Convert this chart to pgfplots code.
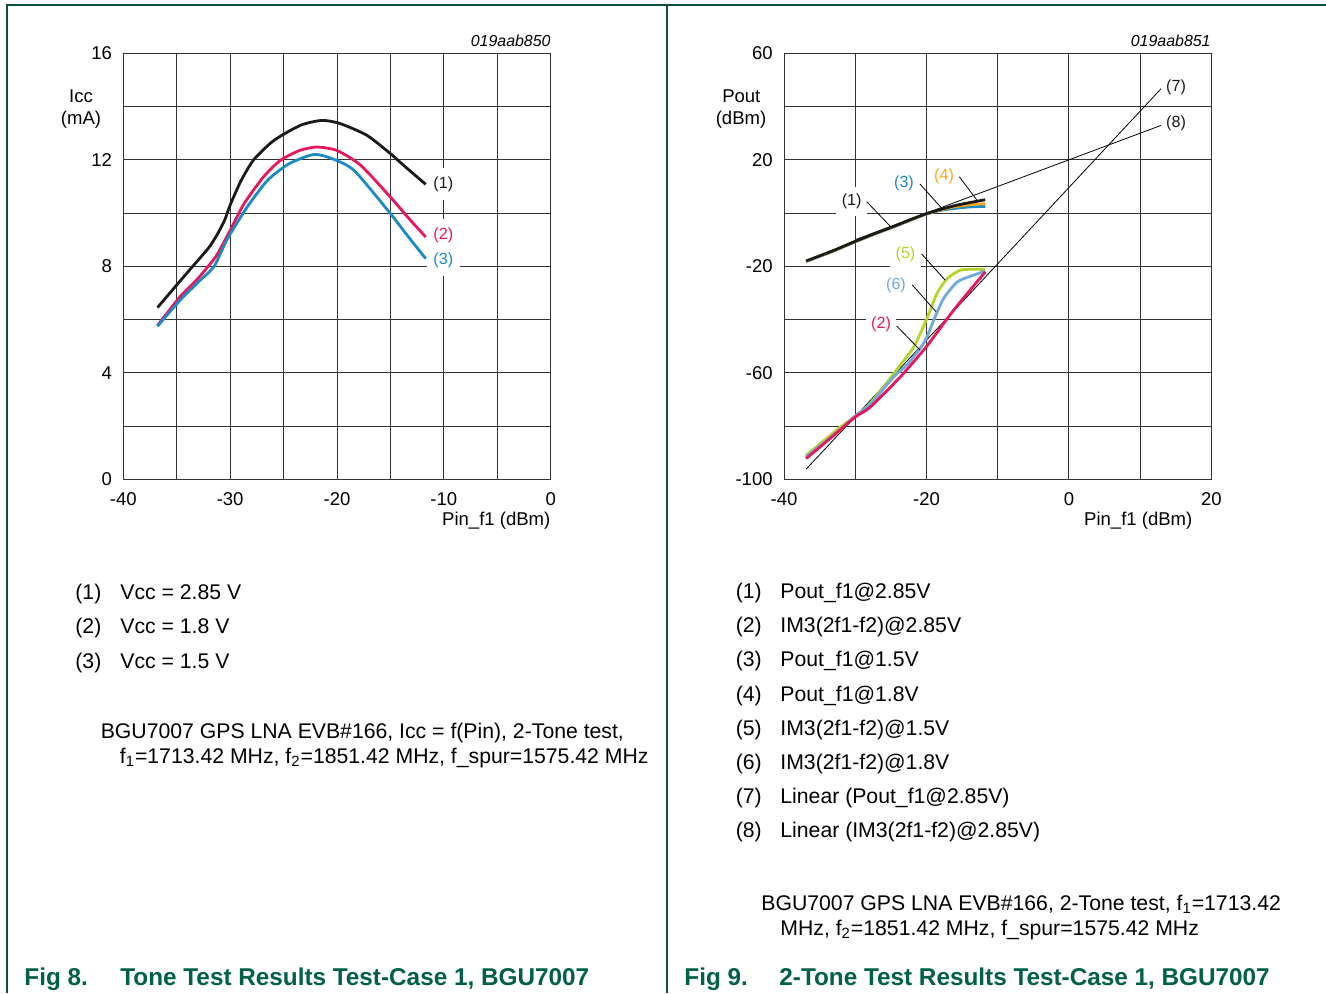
\documentclass[border=0pt]{standalone}
\usepackage{pgfplots}
\pgfplotsset{compat=1.18}
\usepackage{fontspec}
\setmainfont{Liberation Sans}

\definecolor{c1}{RGB}{26,26,26}
\definecolor{c2}{RGB}{232,22,90}
\definecolor{c3}{RGB}{28,138,200}
\definecolor{c4}{RGB}{245,168,30}
\definecolor{c5}{RGB}{182,212,40}
\definecolor{c6}{RGB}{110,170,222}
\definecolor{framegreen}{RGB}{16,78,62}
\definecolor{capgreen}{RGB}{0,96,72}

\newcommand{\tkfont}{\fontsize{9.3}{11}\selectfont}
\newcommand{\lbfont}{\fontsize{8.1}{9}\selectfont}
\newcommand{\lgfont}{\fontsize{10.65}{13}\selectfont}
\newcommand{\capfont}{\fontsize{12.2}{14}\selectfont\bfseries}

\pgfplotsset{
  chartbase/.style={
    scale only axis, anchor=south west,
    width=213.7bp, height=213bp,
    grid=both,
    major grid style={black!80, line width=0.5bp},
    minor grid style={black!80, line width=0.5bp},
    axis line style={black!80, line width=0.5bp},
    major tick length=0pt, minor tick length=0pt,
    tick label style={font=\tkfont, inner sep=0pt},
    xticklabel style={anchor=north, yshift=-6.2bp},
    yticklabel style={anchor=east, xshift=-5.5bp},
    /pgf/number format/assume math mode=true,
  },
  crv/.style={line width=1.4bp, smooth, tension=0.4, no marks},
  thin/.style={black, line width=0.4bp, no marks},
}

\begin{document}
\begin{tikzpicture}

% Fig 8: Icc vs Pin
\begin{axis}[chartbase,
    at={(61.65bp,-239.65bp)},
    xmin=-40, xmax=0, ymin=0, ymax=16,
    xtick={-40,-30,...,0}, minor xtick={-35,-25,-15,-5},
    ytick={0,4,...,16}, minor ytick={2,6,10,14},
]
\addplot[crv, c1] coordinates {
  (-36.8,6.45) (-35,7.3) (-33.5,8.0) (-32,8.7) (-31.2,9.2) (-30.5,9.75)
  (-30,10.3) (-29,11.2) (-27.8,12.0) (-25.9,12.73) (-23.4,13.3) (-21.4,13.48)
  (-19.7,13.36) (-17.2,12.92) (-15,12.23) (-13.5,11.7) (-11.7,11.08)
};
\addplot[crv, c2] coordinates {
  (-36.8,5.78) (-34.7,6.85) (-33,7.55) (-31.85,8.1) (-31.2,8.45) (-30,9.35)
  (-28.7,10.35) (-26.9,11.35) (-25.3,11.98) (-23.5,12.35) (-21.9,12.48)
  (-20,12.35) (-17.8,11.8) (-15,10.6) (-13.5,9.9) (-11.7,9.1)
};
\addplot[crv, c3] coordinates {
  (-36.8,5.75) (-34.7,6.72) (-33,7.4) (-31.5,8.0) (-30.3,9.0) (-28.4,10.23)
  (-26.5,11.23) (-24.5,11.85) (-22.2,12.2) (-20.5,12.05) (-18.4,11.6)
  (-15,9.98) (-13.5,9.2) (-11.7,8.29)
};
\end{axis}

% Fig 9: Pout / IM3 vs Pin
\begin{axis}[chartbase,
    at={(392bp,-239.65bp)},
    xmin=-40, xmax=20, ymin=-100, ymax=60,
    xtick={-40,-20,0,20}, minor xtick={-30,-10,10},
    ytick={-100,-60,-20,20,60}, minor ytick={-80,-40,0,40},
]
% linear extrapolations
\addplot[thin] coordinates {(-30,-10) (13.07,33.07)};
\addplot[thin] coordinates {(-36.9,-96.2) (13.07,47.1)};
% IM3
\addplot[crv, c5] coordinates {
  (-36.9,-91.0) (-32.1,-80.4) (-30,-76.3) (-27.9,-71.4) (-24.6,-60.3)
  (-21.8,-50.3) (-19.95,-39.6) (-18.55,-30.3) (-17.1,-24.6) (-15.3,-21.5)
  (-13.5,-21.1) (-11.75,-21.2)
};
\addplot[crv, c6] coordinates {
  (-36.9,-91.6) (-32,-81) (-30,-76.2) (-27.9,-71.8) (-24.6,-61.5)
  (-22.8,-57.2) (-20.9,-50.9) (-19.95,-46.6) (-19.0,-40.3) (-17.6,-32.1)
  (-15.7,-25.9) (-13.9,-23.8) (-11.75,-21.8)
};
\addplot[crv, c2] coordinates {
  (-36.9,-92.2) (-33.5,-84.6) (-30,-76.6) (-27.9,-72.9) (-23.7,-61.6)
  (-20.05,-50.3) (-16.2,-36.5) (-11.75,-22.1)
};
% Pout
\addplot[crv, c3] coordinates {
  (-36.9,-18.2) (-33,-14.2) (-30,-10.8) (-27,-7.6) (-25,-5.6) (-22,-2.4)
  (-20,-0.4) (-18,1.0) (-16,1.8) (-14,2.3) (-11.75,2.5)
};
\addplot[crv, c4] coordinates {
  (-36.9,-18.1) (-33,-14.1) (-30,-10.7) (-27,-7.5) (-25,-5.5) (-22,-2.3)
  (-20,-0.3) (-18,1.2) (-16,2.4) (-14,3.1) (-11.75,3.5)
};
\addplot[crv, c1] coordinates {
  (-36.9,-18.0) (-33,-14.0) (-30,-10.6) (-27,-7.4) (-25,-5.4) (-22,-2.2)
  (-20,-0.2) (-18,1.4) (-16,2.8) (-14,3.9) (-11.75,5.0)
};
\end{axis}

% text and frame, in pixel units of the page
\begin{scope}[x=0.5bp, y=-0.5bp]
  \draw[framegreen, line width=0.8bp] (1326,5) -- (7,5) -- (7,993);
  \draw[framegreen, line width=0.8bp] (667,5) -- (667,993);

  % figure ids
  \node[anchor=base east, inner sep=0pt, font=\fontsize{8}{9}\selectfont\itshape] at (551,46.5) {019aab850};
  \node[anchor=base east, inner sep=0pt, font=\fontsize{8}{9}\selectfont\itshape] at (1211,46.5) {019aab851};

  % axis titles
  \node[anchor=base, inner sep=0pt, font=\tkfont] at (81,102.7) {Icc};
  \node[anchor=base, inner sep=0pt, font=\tkfont] at (81,124.5) {(mA)};
  \node[anchor=base, inner sep=0pt, font=\tkfont] at (741.3,102.7) {Pout};
  \node[anchor=base, inner sep=0pt, font=\tkfont] at (741,124.5) {(dBm)};
  \node[anchor=base east, inner sep=0pt, font=\tkfont] at (550.7,525) {Pin\_f1 (dBm)};
  \node[anchor=base east, inner sep=0pt, font=\tkfont] at (1192.7,525) {Pin\_f1 (dBm)};

  % curve labels, left chart
  \begin{scope}[every node/.style={fill=white, inner xsep=3.2bp, inner ysep=4bp, font=\lbfont}]
    \node[text=c1] at (443.3,184) {(1)};
    \node[text=c2] at (443.3,235) {(2)};
    \node[text=c3] at (443.3,260) {(3)};
  \end{scope}

  % curve labels, right chart
  \begin{scope}[every node/.style={fill=white, inner xsep=2.75bp, inner ysep=3.5bp, font=\lbfont}]
    \node[text=c1] at (851.7,201.7) {(1)};
    \node[text=c3] at (904,183.3) {(3)};
    \node[text=c4] at (944,176.3) {(4)};
    \node[text=c5] at (905.5,254) {(5)};
    \node[text=c6] at (896,285.5) {(6)};
    \node[text=c2] at (881,324) {(2)};
    \node[text=c1, inner ysep=1bp] at (1176,87) {(7)};
    \node[text=c1, inner ysep=1bp] at (1176,123) {(8)};
  \end{scope}
  \begin{scope}[black, line width=0.4bp]
    \draw (866.7,201.7) -- (890.7,226.7);
    \draw (920,184) -- (942.7,209.3);
    \draw (959.3,176.7) -- (977.3,200.7);
    \draw (921.7,254) -- (945,280);
    \draw (912.3,285) -- (936,311.7);
    \draw (896.7,326) -- (920,350);
  \end{scope}

  % key, left
  \begin{scope}[every node/.style={anchor=base west, inner sep=0pt, font=\lgfont}]
    \node at (75,599) {(1)};   \node at (120,599) {Vcc = 2.85 V};
    \node at (75,633.5) {(2)}; \node at (120,633.5) {Vcc = 1.8 V};
    \node at (75,668) {(3)};   \node at (120,668) {Vcc = 1.5 V};
    \node at (100.4,738.3) {BGU7007 GPS LNA EVB\#166, Icc = f(Pin), 2-Tone test,};
    \node at (119.5,763.5) {f\textsubscript{1}=1713.42 MHz, f\textsubscript{2}=1851.42 MHz, f\_spur=1575.42 MHz};

    % key, right
    \node at (735.4,598.5) {(1)}; \node at (780,598.5) {Pout\_f1@2.85V};
    \node at (735.4,632.7) {(2)}; \node at (780,632.7) {IM3(2f1-f2)@2.85V};
    \node at (735.4,666.9) {(3)}; \node at (780,666.9) {Pout\_f1@1.5V};
    \node at (735.4,701.1) {(4)}; \node at (780,701.1) {Pout\_f1@1.8V};
    \node at (735.4,735.3) {(5)}; \node at (780,735.3) {IM3(2f1-f2)@1.5V};
    \node at (735.4,769.5) {(6)}; \node at (780,769.5) {IM3(2f1-f2)@1.8V};
    \node at (735.4,803.7) {(7)}; \node at (780,803.7) {Linear (Pout\_f1@2.85V)};
    \node at (735.4,837.9) {(8)}; \node at (780,837.9) {Linear (IM3(2f1-f2)@2.85V)};
    \node at (761,910) {BGU7007 GPS LNA EVB\#166, 2-Tone test, f\textsubscript{1}=1713.42};
    \node at (780,935) {MHz, f\textsubscript{2}=1851.42 MHz, f\_spur=1575.42 MHz};
  \end{scope}

  % captions
  \begin{scope}[every node/.style={anchor=base west, inner sep=0pt, font=\capfont, text=capgreen}]
    \node at (24,985) {Fig 8.};
    \node at (120,985) {Tone Test Results Test-Case 1, BGU7007};
    \node at (684,985) {Fig 9.};
    \node at (779,985) {2-Tone Test Results Test-Case 1, BGU7007};
  \end{scope}

  \pgfresetboundingbox
  \path[use as bounding box] (0,0) rectangle (1326,993);
\end{scope}
\end{tikzpicture}
\end{document}
